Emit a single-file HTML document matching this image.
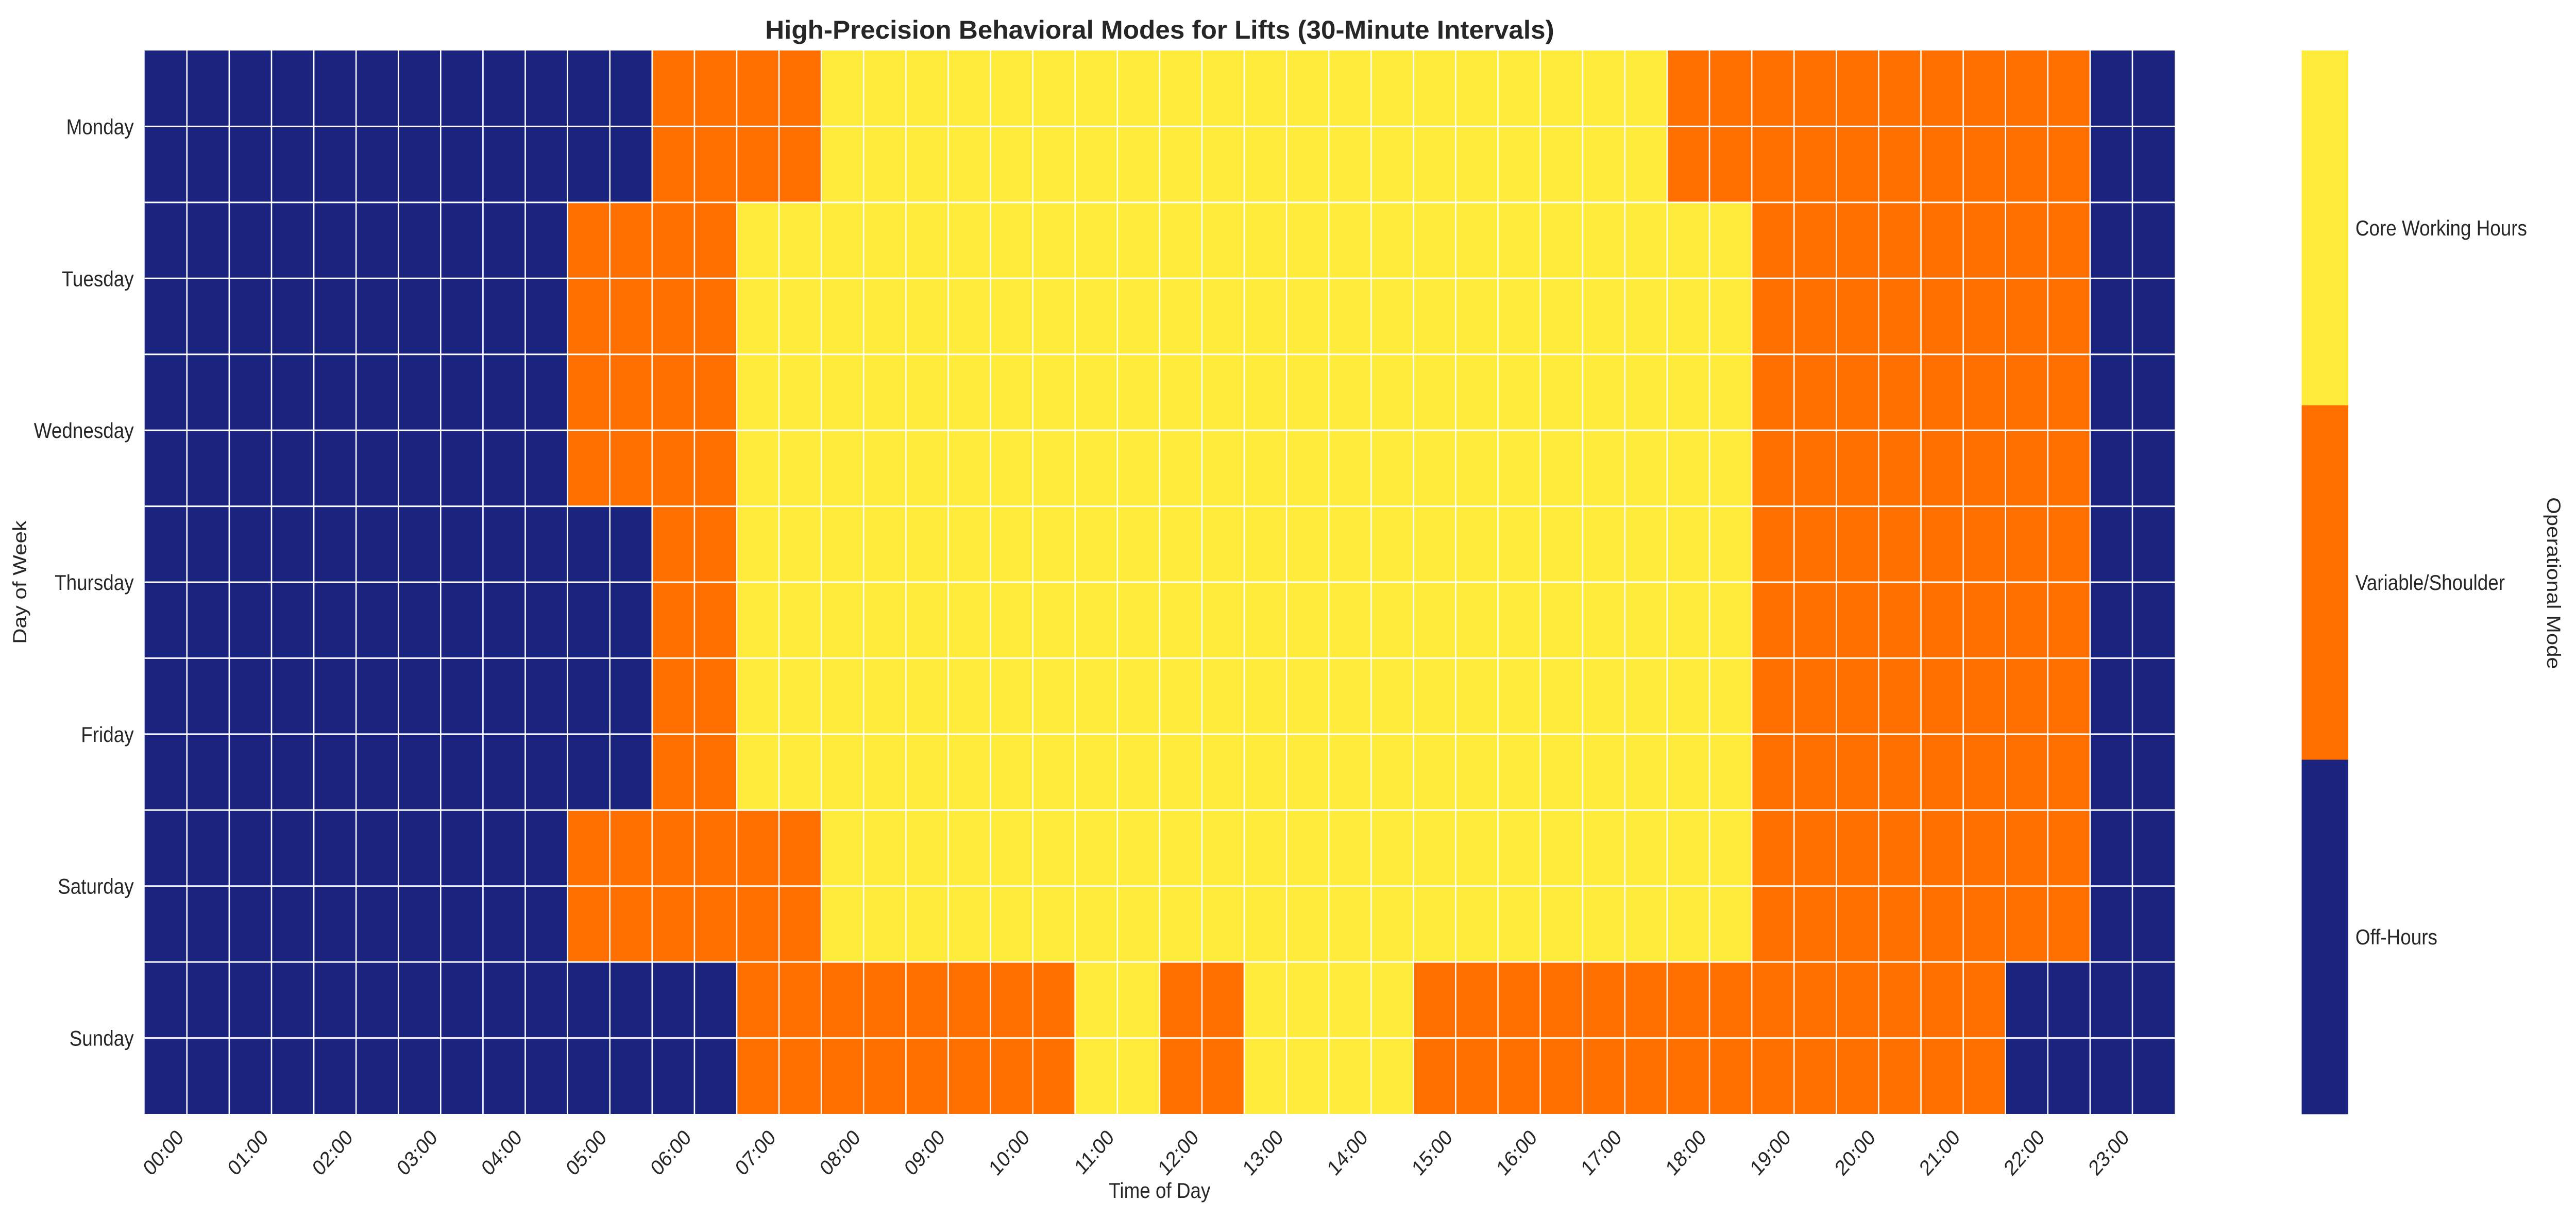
<!DOCTYPE html>
<html>
<head>
<meta charset="utf-8">
<meta name="viewport" content="width=5700, initial-scale=1">
<style>
  html,body{margin:0;padding:0;background:#fff;overflow:hidden;width:100vw;height:100vh;}
  svg{display:block;width:100vw;height:100vh;font-family:"Liberation Sans",Arial,sans-serif;}
</style>
</head>
<body>
<svg id="chart" viewBox="0 0 5700 2364" preserveAspectRatio="none" xmlns="http://www.w3.org/2000/svg">
  <rect x="0" y="0" width="5700" height="2364" fill="#ffffff"/>
  <text x="2566" y="75" text-anchor="middle" font-size="50" font-weight="bold" fill="#262626" textLength="1746" lengthAdjust="spacingAndGlyphs">High-Precision Behavioral Modes for Lifts (30-Minute Intervals)</text>
  <g id="cells"></g>
  <g id="grid"></g>
  <g id="yticks"></g>
  <g id="xticks"></g>
  <text transform="translate(58,1130) rotate(-90)" text-anchor="middle" font-size="42" fill="#262626">Day of Week</text>
  <text x="2566" y="2325" text-anchor="middle" font-size="42" fill="#262626">Time of Day</text>
  <g id="cbar"></g>
  <text transform="translate(5636,1132) rotate(90)" text-anchor="middle" font-size="42" fill="#262626">Operational Mode</text>
</svg>
<script>
const days = ["Monday","Tuesday","Wednesday","Thursday","Friday","Saturday","Sunday"];
const hourLabels = ["00:00","01:00","02:00","03:00","04:00","05:00","06:00","07:00","08:00","09:00","10:00","11:00","12:00","13:00","14:00","15:00","16:00","17:00","18:00","19:00","20:00","21:00","22:00","23:00"];
const modeLabels = ["Off-Hours","Variable/Shoulder","Core Working Hours"];
const modeColors = ["#1a237e","#ff6f00","#ffeb3b"];
const monday    = [0,0,0,0,0,0,0,0,0,0,0,0,1,1,1,1,2,2,2,2,2,2,2,2,2,2,2,2,2,2,2,2,2,2,2,2,1,1,1,1,1,1,1,1,1,1,0,0];
const tuesday   = [0,0,0,0,0,0,0,0,0,0,1,1,1,1,2,2,2,2,2,2,2,2,2,2,2,2,2,2,2,2,2,2,2,2,2,2,2,2,1,1,1,1,1,1,1,1,0,0];
const wednesday = [0,0,0,0,0,0,0,0,0,0,1,1,1,1,2,2,2,2,2,2,2,2,2,2,2,2,2,2,2,2,2,2,2,2,2,2,2,2,1,1,1,1,1,1,1,1,0,0];
const thursday  = [0,0,0,0,0,0,0,0,0,0,0,0,1,1,2,2,2,2,2,2,2,2,2,2,2,2,2,2,2,2,2,2,2,2,2,2,2,2,1,1,1,1,1,1,1,1,0,0];
const friday    = [0,0,0,0,0,0,0,0,0,0,0,0,1,1,2,2,2,2,2,2,2,2,2,2,2,2,2,2,2,2,2,2,2,2,2,2,2,2,1,1,1,1,1,1,1,1,0,0];
const saturday  = [0,0,0,0,0,0,0,0,0,0,1,1,1,1,1,1,2,2,2,2,2,2,2,2,2,2,2,2,2,2,2,2,2,2,2,2,2,2,1,1,1,1,1,1,1,1,0,0];
const sunday    = [0,0,0,0,0,0,0,0,0,0,0,0,0,0,1,1,1,1,1,1,1,1,2,2,1,1,2,2,2,2,1,1,1,1,1,1,1,1,1,1,1,1,1,1,0,0,0,0];
const values = [monday,tuesday,wednesday,thursday,friday,saturday,sunday];

const NS = "http://www.w3.org/2000/svg";
const X0 = 320, X1 = 4812, Y0 = 98, Y1 = 2162;
const nCols = 48, nRows = days.length;
const cw = (X1 - X0) / nCols, rh = (Y1 - Y0) / nRows;
function xScale(c){ return X0 + c * cw; }
function yScale(r){ return Y0 + r * rh; }
function mk(tag, attrs){ const e = document.createElementNS(NS, tag); for (const k in attrs) e.setAttribute(k, attrs[k]); return e; }

const cells = document.getElementById("cells");
values.forEach((row, r) => {
  row.forEach((v, c) => {
    const rect = mk("rect", {x: xScale(c), y: yScale(r), width: cw, height: rh, fill: modeColors[v]});
    
    
    cells.appendChild(rect);
  });
});

const grid = document.getElementById("grid");
for (let c = 1; c < nCols; c++) {
  const l = mk("line", {x1: xScale(c), x2: xScale(c), y1: Y0, y2: Y1, stroke: "#ffffff", "stroke-width": 3});
  
  
  grid.appendChild(l);
}
for (let r = 1; r < nRows * 2; r++) {
  const y = yScale(r / 2);
  const l = mk("line", {x1: X0, x2: X1, y1: y, y2: y, stroke: "#ffffff", "stroke-width": 3});
  
  
  grid.appendChild(l);
}

const yt = document.getElementById("yticks");
days.forEach((d, r) => {
  const t = mk("text", {x: 296, y: yScale(r + 0.5) + 15, "text-anchor": "end", "font-size": 42, fill: "#262626"});
  t.textContent = d;
  
  
  yt.appendChild(t);
});

const xt = document.getElementById("xticks");
hourLabels.forEach((h, i) => {
  const X = xScale(2 * i + 1) - 5, Y = 2210;
  const t = mk("text", {x: X, y: Y, "text-anchor": "end", "font-size": 42, fill: "#262626", transform: "rotate(-45 " + X + " " + Y + ")"});
  t.textContent = h;
  
  
  xt.appendChild(t);
});

const cb = document.getElementById("cbar");
const CBX = 5093, CBW = 103;
const segH = (Y1 - Y0) / modeLabels.length;
modeLabels.forEach((m, i) => {
  const top = Y1 - (i + 1) * segH;
  const rect = mk("rect", {x: CBX, y: top, width: CBW, height: segH + 0.5, fill: modeColors[i]});
  
  
  cb.appendChild(rect);
  const t = mk("text", {x: 5212, y: top + segH / 2 + 15, "font-size": 42, fill: "#262626"});
  t.textContent = m;
  
  
  cb.appendChild(t);
});
</script>
</body>
</html>
